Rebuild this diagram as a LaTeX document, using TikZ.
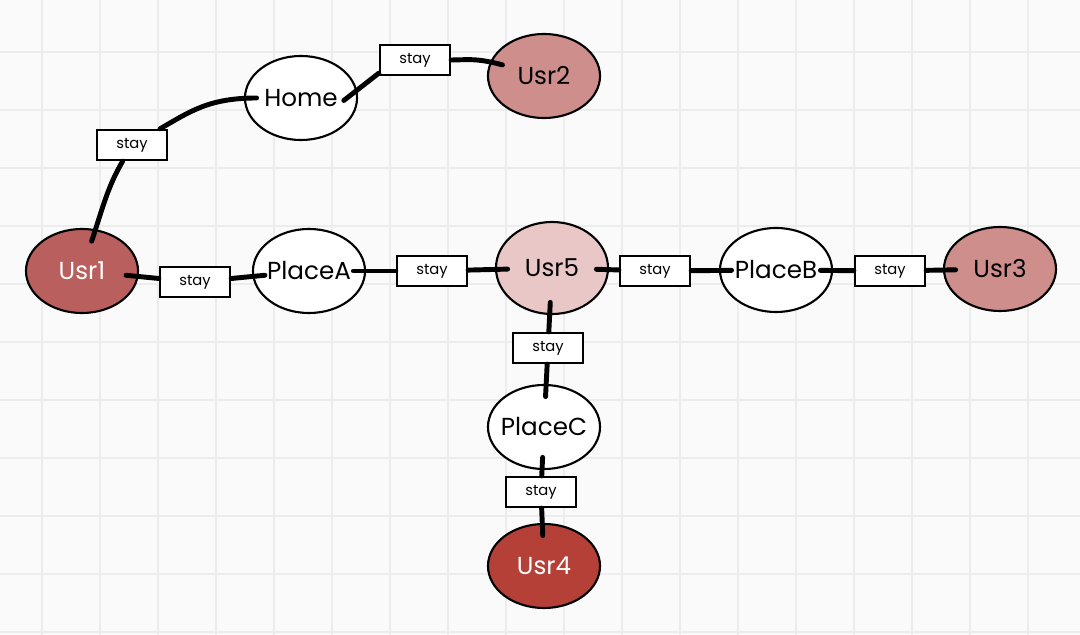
\documentclass[tikz,border=0pt]{standalone}
\usepackage{fontspec}
\setmainfont{Poppins}
\usepackage{tikz}
\usetikzlibrary{graphs}
\usetikzlibrary{shapes.geometric}
\usepackage{xcolor}

\definecolor{usrdark}{RGB}{185,96,94}
\definecolor{usrlight}{RGB}{205,142,140}
\definecolor{usrpale}{RGB}{232,199,198}
\definecolor{usrdeep}{RGB}{181,64,56}
\definecolor{gridline}{RGB}{236,236,236}
\definecolor{paper}{RGB}{250,250,250}

\tikzset{
    place/.style={ellipse, draw, line width=1.5pt, fill=white,
        minimum width=2.8cm, minimum height=2.1cm,
        inner xsep=-8pt, inner ysep=0pt,
        font=\fontsize{17.5}{20}\selectfont},
    usr/.style={place, fill=#1},
    stay/.style={draw, line width=1.6pt, fill=white,
        minimum width=1.75cm, minimum height=0.75cm, inner sep=0pt,
        font=\fontsize{10.5}{12}\selectfont},
    link/.style={line width=3.5pt, line cap=round, shorten <=-9pt},
}

\begin{document}
\begin{tikzpicture}[x=0.025cm, y=0.025cm]
        \useasboundingbox (0,0) rectangle (1080,-635);
        \fill[paper] (0,0) rectangle (1080,-635);
        \foreach \x in {42,100,...,1080}
            \draw[gridline, line width=1.2pt] (\x,0) -- (\x,-635);
        \foreach \y in {52,110,...,635}
            \draw[gridline, line width=1.2pt] (0,-\y) -- (1080,-\y);

        \node[usr=usrdark, text=white] (usr1) at (82, -271)  {Usr1};
        \node[place]                   (home) at (301, -98)  {Home};
        \node[usr=usrlight]            (usr2) at (544, -76)  {Usr2};
        \node[place]                 (placea) at (309, -271) {PlaceA};
        \node[usr=usrpale, minimum height=2.3cm] (usr5) at (552, -268) {Usr5};
        \node[place]                 (placeb) at (776, -270) {PlaceB};
        \node[usr=usrlight]            (usr3) at (1000, -269) {Usr3};
        \node[place]                 (placec) at (544, -427) {PlaceC};
        \node[usr=usrdeep, text=white] (usr4) at (544, -566) {Usr4};

        \node[stay] (s1) at (132, -145) {stay};
        \node[stay] (s2) at (415, -60)  {stay};
        \node[stay] (s3) at (195, -282) {stay};
        \node[stay] (s4) at (432, -271) {stay};
        \node[stay] (s5) at (655, -271) {stay};
        \node[stay] (s6) at (890, -271) {stay};
        \node[stay] (s7) at (548, -348) {stay};
        \node[stay] (s8) at (541, -492) {stay};

        \graph {(usr1)   --[link, out=72, in=-120] (s1)};
        \graph {(home)   --[link, out=180, in=30]  (s1)};
        \draw[link, shorten <=-12pt] (home.8) -- (s2.-160);
        \graph {(usr2)   --[link, out=165, in=0]   (s2)};
        \graph {(usr1)   --[link]                  (s3)};
        \graph {(placea) --[link]                  (s3)};
        \graph {(placea) --[link]                  (s4)};
        \graph {(usr5)   --[link]                  (s4)};
        \graph {(usr5)   --[link]                  (s5)};
        \graph {(placeb) --[link]                  (s5)};
        \graph {(placeb) --[link]                  (s6)};
        \graph {(usr3)   --[link]                  (s6)};
        \graph {(usr5)   --[link]                  (s7)};
        \graph {(placec) --[link]                  (s7)};
        \graph {(placec) --[link]                  (s8)};
        \graph {(usr4)   --[link]                  (s8)};
    \end{tikzpicture}
\end{document}
